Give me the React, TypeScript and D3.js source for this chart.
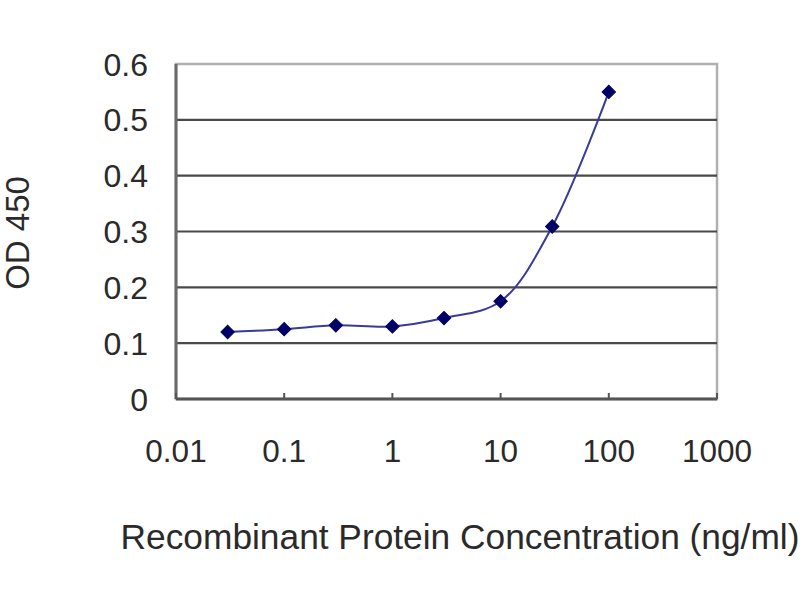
import React from "react";
import * as d3 from "d3";

const concentrations = [0.03, 0.1, 0.3, 1, 3, 10, 30, 100];
const odValues = [0.12, 0.125, 0.132, 0.13, 0.145, 0.175, 0.309, 0.55];
const xTicks = [0.01, 0.1, 1, 10, 100, 1000];
const xTickLabels = ["0.01", "0.1", "1", "10", "100", "1000"];
const yTicks = [0, 0.1, 0.2, 0.3, 0.4, 0.5, 0.6];
const yTickLabels = ["0", "0.1", "0.2", "0.3", "0.4", "0.5", "0.6"];
const xTitle = "Recombinant Protein Concentration (ng/ml)";
const yTitle = "OD 450";

export default function App() {
  const left = 176, right = 717, top = 64, bottom = 399;
  const x = d3.scaleLog().domain([0.01, 1000]).range([left, right]);
  const y = d3.scaleLinear().domain([0, 0.6]).range([bottom, top]);
  const pts = concentrations.map((c, i) => [x(c), y(odValues[i])] as [number, number]);
  const line = d3.line().curve(d3.curveCatmullRom.alpha(0.5))(pts) || "";
  const diamond = d3.symbol().type(d3.symbolSquare).size(90)() || "";
  const font = "'Liberation Sans', Arial, sans-serif";
  return (
    <svg width={800} height={600} style={{ position: "absolute", left: 0, top: 0, background: "#fff" }}>
      <rect x={0} y={0} width={800} height={600} fill="#fff" />
      <rect x={left} y={top} width={right - left} height={bottom - top} fill="none" stroke="#b0b0b0" strokeWidth={2.5} />
      {yTicks.filter((t) => t > 0 && t < 0.6).map((t) => (
        <line key={t} x1={left} x2={right} y1={y(t)} y2={y(t)} stroke="#4a4a4a" strokeWidth={2.2} />
      ))}
      <line x1={left} x2={left} y1={top} y2={bottom} stroke="#6a6a6a" strokeWidth={3} />
      <line x1={left} x2={right} y1={bottom} y2={bottom} stroke="#555" strokeWidth={3} />
      {xTicks.map((t) => (
        <line key={t} x1={x(t)} x2={x(t)} y1={bottom} y2={bottom - 6} stroke="#555" strokeWidth={2} />
      ))}
      {yTicks.map((t, i) => (
        <text key={t} x={148} y={y(t)} dy="0.36em" textAnchor="end" fontFamily={font} fontSize={32} fill="#2a2a2a">
          {yTickLabels[i]}
        </text>
      ))}
      {xTicks.map((t, i) => (
        <text key={t} x={x(t)} y={462} textAnchor="middle" fontFamily={font} fontSize={31.5} fill="#2a2a2a">
          {xTickLabels[i]}
        </text>
      ))}
      <text x={460} y={549} textAnchor="middle" fontFamily={font} fontSize={35.3} fill="#2a2a2a">
        {xTitle}
      </text>
      <text transform="translate(29,233) rotate(-90)" textAnchor="middle" fontFamily={font} fontSize={33} fill="#2a2a2a">
        {yTitle}
      </text>
      <path d={line} fill="none" stroke="#3a3a9a" strokeWidth={2} />
      {pts.map((p, i) => (
        <path key={i} d={diamond} transform={`translate(${p[0]},${p[1]}) rotate(45)`} fill="#000066" stroke="#000066" strokeWidth={1} />
      ))}
    </svg>
  );
}
